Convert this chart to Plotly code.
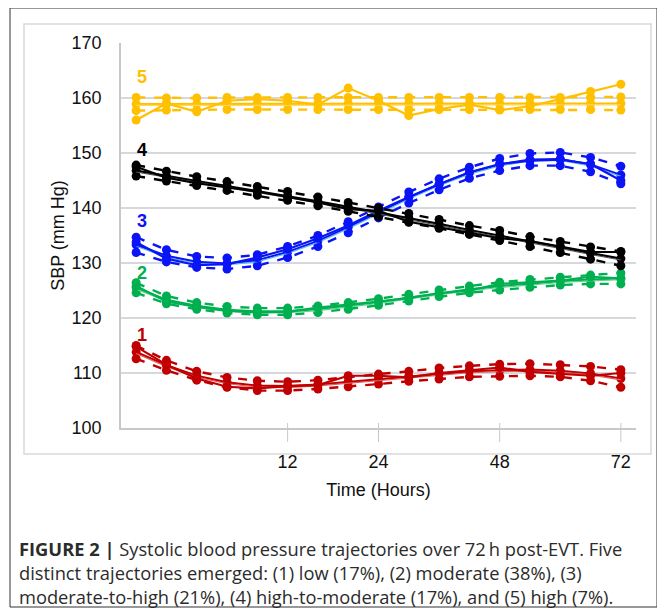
import plotly.graph_objects as go

hours = [2, 4, 6, 8, 10, 12, 16, 20, 24, 30, 36, 42, 48, 54, 60, 66, 72]
tick_hours = [12, 24, 48, 72]
tick_labels = ["12", "24", "48", "72"]

est1 = [113.8, 111.4, 109.5, 108.3, 107.7, 107.6, 107.9, 108.4, 108.9, 109.4, 109.9, 110.3, 110.5, 110.6, 110.4, 109.9, 109.0]
obs1 = [114.8, 111.5, 109.0, 107.5, 107.2, 107.6, 107.8, 109.5, 109.5, 109.2, 110.0, 110.5, 111.0, 110.2, 109.8, 109.5, 110.0]
ci1 = [1.2, 0.9, 0.8, 0.9, 0.9, 0.8, 0.8, 0.9, 0.9, 0.9, 1.0, 1.0, 1.1, 1.1, 1.1, 1.3, 1.6]

est2 = [125.5, 123.3, 122.2, 121.5, 121.2, 121.2, 121.6, 122.2, 122.9, 123.7, 124.5, 125.2, 125.8, 126.3, 126.7, 127.0, 127.2]
obs2 = [125.8, 123.0, 122.0, 121.3, 121.0, 121.1, 121.9, 122.4, 123.0, 123.6, 124.5, 125.0, 126.2, 126.5, 126.8, 127.5, 127.2]
ci2 = [0.9, 0.7, 0.6, 0.6, 0.6, 0.6, 0.6, 0.6, 0.6, 0.6, 0.6, 0.6, 0.7, 0.7, 0.7, 0.8, 1.0]

est3 = [133.3, 131.3, 130.2, 129.9, 130.5, 132.0, 134.0, 136.5, 139.2, 141.9, 144.3, 146.4, 147.9, 148.8, 148.9, 147.9, 146.0]
obs3 = [133.8, 130.8, 129.6, 129.8, 131.0, 132.5, 134.5, 136.8, 139.5, 142.0, 144.3, 146.5, 148.0, 148.6, 148.8, 148.0, 145.0]
ci3 = [1.4, 1.1, 1.0, 1.0, 1.0, 1.0, 1.0, 1.0, 1.0, 1.0, 1.0, 1.0, 1.1, 1.1, 1.2, 1.3, 1.6]

est4 = [146.8, 145.8, 144.9, 144.0, 143.1, 142.2, 141.2, 140.2, 139.2, 138.2, 137.1, 136.0, 135.0, 133.9, 132.9, 131.8, 130.8]
obs4 = [147.5, 145.5, 144.5, 143.8, 143.0, 142.0, 141.0, 139.8, 139.5, 137.5, 136.5, 135.5, 134.5, 134.0, 133.0, 132.0, 132.0]
ci4 = [1.0, 0.9, 0.8, 0.8, 0.8, 0.8, 0.8, 0.8, 0.8, 0.8, 0.8, 0.8, 0.9, 0.9, 1.0, 1.1, 1.3]

est5 = [158.9, 158.9, 158.9, 159.0, 159.0, 159.0, 159.0, 159.0, 159.0, 159.0, 159.0, 159.0, 159.0, 159.0, 159.0, 159.0, 159.0]
obs5 = [156.0, 159.0, 157.5, 159.5, 159.8, 159.5, 158.8, 161.8, 159.5, 156.8, 158.0, 158.8, 157.8, 158.5, 159.8, 161.2, 162.5]
ci5 = [1.2, 1.1, 1.1, 1.1, 1.1, 1.1, 1.1, 1.1, 1.1, 1.1, 1.1, 1.1, 1.1, 1.1, 1.1, 1.1, 1.2]

groups = ["1", "2", "3", "4", "5"]
colors = ["#C00000", "#00B050", "#0A14F5", "#000000", "#FFC000"]
light = ["#E06060", "#60D090", "#5AB4F0", "#555555", "#FFD860"]
label_y = [116.9, 128.2, 137.6, 150.6, 163.8]

OFF = 8  # default page body margin
W, H = 665 - OFF, 614 - OFF
L, R, T, B = 121 - OFF, 636 - OFF, 43 - OFF, 428 - OFF

xi = list(range(len(hours)))
tickvals = [hours.index(h) for h in tick_hours]

fig = go.Figure()
data = [(est1, obs1, ci1), (est2, obs2, ci2), (est3, obs3, ci3), (est4, obs4, ci4), (est5, obs5, ci5)]
for g, (est, obs, ci) in enumerate(data):
    c = colors[g]
    up = [e + d for e, d in zip(est, ci)]
    lo = [e - d for e, d in zip(est, ci)]
    for ys in (up, lo):
        fig.add_trace(go.Scatter(x=xi, y=ys, mode="lines+markers",
                                 line=dict(color=c, width=2.4, dash="dash"),
                                 marker=dict(color=c, size=9), showlegend=False))
    fig.add_trace(go.Scatter(x=xi, y=est, mode="lines+markers",
                             line=dict(color=c, width=2.2),
                             marker=dict(color=c, size=9), showlegend=False))
    fig.add_trace(go.Scatter(x=xi, y=[e - 0.25 for e in est], mode="lines",
                             line=dict(color=light[g], width=1.2), showlegend=False))
    fig.add_trace(go.Scatter(x=xi, y=obs, mode="lines+markers",
                             line=dict(color=c, width=2.2),
                             marker=dict(color=c, size=9), showlegend=False))
    fig.add_annotation(x=0.18, y=label_y[g], xref="x", yref="y", text="<b>" + groups[g] + "</b>",
                       showarrow=False, font=dict(color=c, size=18, family="Liberation Sans"))


def px(x):
    return (x - OFF - L) / (R - L)


def py(y):
    return (B - (y - OFF)) / (B - T)


shapes = [
    dict(type="rect", xref="paper", yref="paper", x0=px(10), x1=px(657), y0=py(607), y1=py(8),
         line=dict(color="#333333", width=1), layer="below"),
    dict(type="rect", xref="paper", yref="paper", x0=px(24), x1=px(651), y0=py(454), y1=py(24),
         line=dict(color="#D9D9D9", width=1.5), layer="below"),
]
for tv in tickvals:
    shapes.append(dict(type="line", xref="x", yref="paper", x0=tv, x1=tv, y0=py(423), y1=py(442),
                       line=dict(color="#C8C8C8", width=1)))

fig.update_layout(
    width=W, height=H,
    margin=dict(l=L, r=W - R, t=T, b=H - B),
    paper_bgcolor="white", plot_bgcolor="white",
    font=dict(family="Liberation Sans", color="#111111"),
    shapes=shapes,
    xaxis=dict(range=[-0.5, 16.5], tickvals=tickvals, ticktext=tick_labels,
               showgrid=False, zeroline=False, showline=True, linecolor="#C8C8C8", linewidth=1.5,
               ticks="", tickfont=dict(size=18, color="#111111"), ticklabelstandoff=17,
               title=dict(text="Time (Hours)", font=dict(size=18, color="#111111"), standoff=12)),
    yaxis=dict(range=[100, 170], dtick=10, showgrid=True, gridcolor="#D5D8DC", gridwidth=1.5,
               zeroline=False, showline=True, linecolor="#C8C8C8", linewidth=1.5,
               tickfont=dict(size=18, color="#111111"), ticklabelstandoff=14,
               title=dict(text="SBP (mm Hg)", font=dict(size=18, color="#111111"), standoff=2)),
)

caption = ("<b>FIGURE 2 |</b> Systolic blood pressure trajectories over 72\u2009h post-EVT. Five<br>"
           "distinct trajectories emerged: (1) low (17%), (2) moderate (38%), (3)<br>"
           "moderate-to-high (21%), (4) high-to-moderate (17%), and (5) high (7%).")
fig.add_annotation(x=px(17), y=py(534), xref="paper", yref="paper", xanchor="left", yanchor="top",
                   text=caption, showarrow=False, align="left",
                   font=dict(size=18.3, color="#2b2b2b", family="Open Sans"))

fig.write_html("out.html")
